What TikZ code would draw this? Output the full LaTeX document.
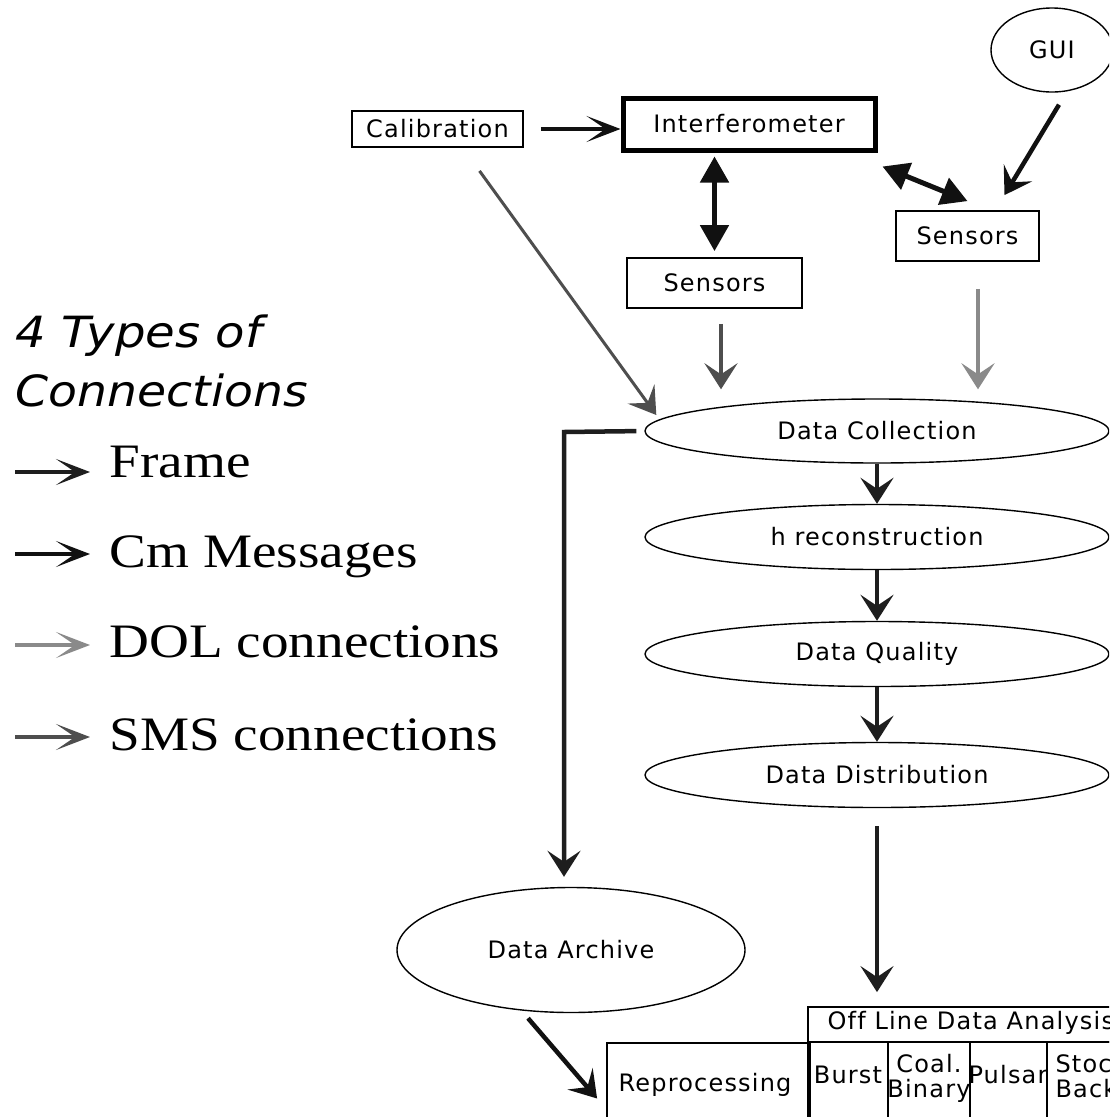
\documentclass[tikz,border=0pt]{standalone}
\usepackage{fontspec}
\setmainfont{DejaVu Sans}[LetterSpace=5, Ligatures=NoCommon]
\newfontfamily\legendserif{Liberation Serif}
\newfontfamily\legendsans{DejaVu Sans}
\usetikzlibrary{arrows.meta,shapes.geometric,calc}

\newcommand\diagfont{\fontsize{24}{28}\selectfont}
\newcommand\titlefont{\legendsans\itshape\fontsize{43}{50}\selectfont}
\newcommand\keyfont{\legendserif\fontsize{48}{54}\selectfont}

\definecolor{framecol}{HTML}{1E1E1E}
\definecolor{cmcol}{HTML}{111111}
\definecolor{dolcol}{HTML}{8A8A8A}
\definecolor{smscol}{HTML}{4E4E4E}

\tikzset{
  box/.style={draw, line width=1.8pt, inner sep=0pt, font=\diagfont},
  oval/.style={draw, ellipse, line width=1.4pt, inner sep=0pt, font=\diagfont},
  cell/.style={draw, line width=1.8pt, inner sep=0pt, font=\diagfont, align=center},
  headtip/.tip={Stealth[length=26pt, width=33pt, inset=11pt]},
  longtip/.tip={Stealth[length=34pt, width=26pt, inset=19pt]},
  flow/.style={line width=4.5pt},
  framearrow/.style={flow, draw=framecol, -{headtip[fill=framecol]}},
  cmarrow/.style={flow, draw=cmcol, -{headtip[fill=cmcol]}},
  dolarrow/.style={flow, draw=dolcol, -{headtip[fill=dolcol]}},
  smsarrow/.style={flow, draw=smscol, -{headtip[fill=smscol]}},
  keyarrow/.style={line width=4pt, -{longtip[fill=#1]}, draw=#1},
  twoway/.style={line width=5pt, draw=cmcol,
    {Triangle[length=26pt, width=28pt]}-{Triangle[length=26pt, width=28pt]}},
}

\begin{document}
\begin{tikzpicture}[x=1pt, y=-1pt]
\useasboundingbox (0,0) rectangle (1109,1117);
\clip (0,0) rectangle (1109,1117);
\fill[white] (0,0) rectangle (1109,1117);

% ---- upper row: instrument and control ----
\node[box, minimum width=171pt, minimum height=36pt] (calib) at (437.5,129) {Calibration};
\node[box, line width=5pt, minimum width=252pt, minimum height=52pt] (interf) at (749,124) {Interferometer};
\node[oval, minimum width=122pt, minimum height=84pt] (gui) at (1052,50) {GUI};
\node[box, minimum width=143pt, minimum height=50pt] (sensR) at (967.5,236) {Sensors};
\node[box, minimum width=175pt, minimum height=50pt] (sensL) at (714.5,283) {Sensors};

% ---- processing chain ----
\node[oval, minimum width=464pt, minimum height=64pt] (dc)   at (877,431) {Data Collection};
\node[oval, minimum width=464pt, minimum height=65pt] (hrec) at (877,537) {h reconstruction};
\node[oval, minimum width=464pt, minimum height=65pt] (dq)   at (877,654) {Data Quality};
\node[oval, minimum width=464pt, minimum height=65pt] (dd)   at (877,775) {Data Distribution};
\node[oval, minimum width=348pt, minimum height=125pt] (arch) at (571,950) {Data Archive};

% ---- off line analysis table ----
\node[box, minimum width=201pt, minimum height=100pt] (repro) at (707.5,1093) {};
\node[font=\diagfont] (reprotxt) at (705,1085) {Reprocessing};
\node[cell, minimum width=400pt, minimum height=35pt] (head) at (1008,1024.5) {};
\node[font=\diagfont, anchor=west] (headtxt) at (824,1023) {Off Line Data Analysis};
\node[cell, minimum width=80pt, minimum height=100pt] (burst) at (848,1092) {};
\node[font=\diagfont] (bursttxt) at (848,1075) {Burst};
\node[cell, minimum width=82pt, minimum height=100pt] (coal) at (929,1092) {};
\node[font=\diagfont, align=center] (coaltxt) at (929,1078) {Coal.\\[-3pt]Binary};
\node[cell, minimum width=77pt, minimum height=100pt] (pulsar) at (1008.5,1092) {};
\node[font=\diagfont] (pulsartxt) at (1008,1075) {Pulsar};
\node[cell, minimum width=150pt, minimum height=100pt] (stoch) at (1122,1092) {};
\node[font=\diagfont, align=left, anchor=west] (stochtxt) at (1052,1078) {Stochastic\\[-3pt]Background};
\draw[line width=4pt] (repro.north east) -- (repro.south east);

% ---- connectors ----
\draw[keyarrow=cmcol, line width=4.5pt, shorten <=17pt] (calib.east) -- (calib.east -| interf.west);
\draw[twoway, shorten <=6pt, shorten >=4pt] (sensL.north) -- (interf.south -| sensL.north);
\draw[twoway] ([xshift=5pt,yshift=-14pt]interf.south east) -- ([yshift=9pt]sensR.north);
\draw[cmarrow] ([xshift=7pt,yshift=-12pt]gui.south) -- ([xshift=37pt,yshift=15pt]sensR.north);

\draw[smsarrow, line width=3pt] ([xshift=42pt,yshift=-23pt]calib.south) -- ([xshift=12pt,yshift=16pt]dc.west);
\draw[smsarrow, shorten <=15pt, shorten >=9pt] ([xshift=6.5pt]sensL.south) -- ([xshift=6.5pt]sensL.south |- dc.north);
\draw[dolarrow, shorten <=27pt, shorten >=9pt] ([xshift=10.5pt]sensR.south) -- ([xshift=10.5pt]sensR.south |- dc.north);

\draw[framearrow] (dc.south) -- (hrec.north);
\draw[framearrow] (hrec.south) -- (dq.north);
\draw[framearrow] (dq.south) -- (dd.north);
\draw[framearrow, shorten <=18pt, shorten >=14pt] (dd.south) -- (dd.south |- head.north);

\coordinate (bend) at (564,432);
\draw[framearrow, shorten <=8pt, shorten >=10pt] (dc.west) -- (bend) -- (bend |- arch.north);
\draw[cmarrow] ([xshift=-43pt,yshift=-5pt]arch.south) -- ([xshift=-9pt,yshift=-5.5pt]repro.west);

% ---- legend ----
\node[font=\titlefont, anchor=base west] (title1) at (12,347) {\scalebox{1.12}[1]{4 Types of}};
\node[font=\titlefont, anchor=base west] (title2) at (12,406) {\scalebox{1.1}[1]{Connections}};

\node[font=\keyfont, anchor=base west] (kframe) at (106,477) {\scalebox{1.15}[1]{Frame}};
\node[font=\keyfont, anchor=base west] (kcm)    at (106,567) {\scalebox{1.15}[1]{Cm Messages}};
\node[font=\keyfont, anchor=base west] (kdol)   at (106,657) {\scalebox{1.15}[1]{DOL connections}};
\node[font=\keyfont, anchor=base west] (ksms)   at (106,750) {\scalebox{1.15}[1]{SMS connections}};

\coordinate (aframe) at (15,472);
\coordinate (acm)    at (15,554);
\coordinate (adol)   at (15,645);
\coordinate (asms)   at (15,737);
\draw[keyarrow=framecol, shorten >=16pt] (aframe) -- (aframe -| kframe.west);
\draw[keyarrow=cmcol, shorten >=16pt]    (acm) -- (acm -| kcm.west);
\draw[keyarrow=dolcol, shorten >=16pt]   (adol) -- (adol -| kdol.west);
\draw[keyarrow=smscol, shorten >=16pt]   (asms) -- (asms -| ksms.west);
\end{tikzpicture}
\end{document}
